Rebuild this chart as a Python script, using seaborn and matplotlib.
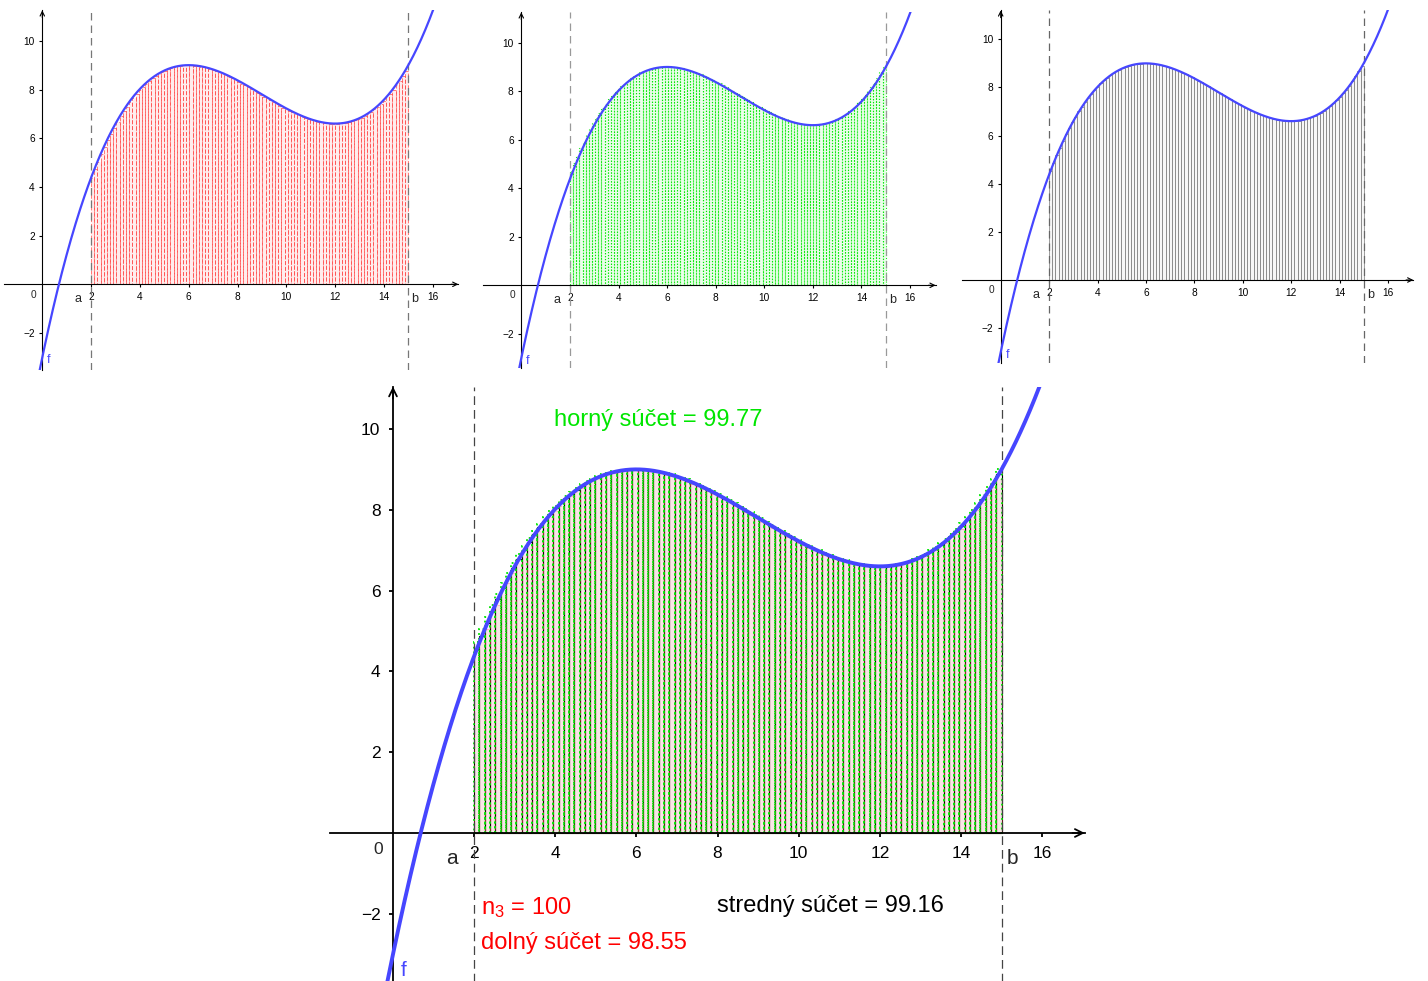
import numpy as np
import matplotlib
matplotlib.use("Agg")
import matplotlib.pyplot as plt
import seaborn as sns

# ---- data -------------------------------------------------------------
coef = [1 / 45, -0.6, 4.8, -3.0]      # f(x) = x^3/45 - 0.6x^2 + 4.8x - 3
a_val, b_val = 2.0, 15.0
n_rect = 100
crit_pts = [6.0, 12.0]                # local max / min of f
x_ticks = [2, 4, 6, 8, 10, 12, 14, 16]
y_ticks = [-2, 2, 4, 6, 8, 10]
label_upper = "horný súčet = 99.77"
label_lower = "dolný súčet = 98.55"
label_mid = "stredný súčet = 99.16"
label_n = r"$\mathregular{n_3}$ = 100"

# ---- derived rectangles ----------------------------------------------
f = np.poly1d(coef)
h = (b_val - a_val) / n_rect
lefts = a_val + h * np.arange(n_rect)
rights = lefts + h


def ext(l, r, fn):
    c = [f(l), f(r)] + [f(p) for p in crit_pts if l < p < r]
    return fn(c)


lower = np.array([ext(l, r, min) for l, r in zip(lefts, rights)])
upper = np.array([ext(l, r, max) for l, r in zip(lefts, rights)])
mids = f(lefts + h / 2)

# ---- style -------------------------------------------------------------
sns.set_theme(style="white")
plt.rcParams["font.family"] = ["Liberation Sans", "DejaVu Sans"]
plt.rcParams["mathtext.fontset"] = "custom"
plt.rcParams["mathtext.rm"] = "Liberation Sans"
plt.rcParams["axes.unicode_minus"] = True

W, H = 1428, 981
fig = plt.figure(figsize=(W / 100, H / 100), dpi=100)
fig.patch.set_facecolor("white")

BLUE = "#4646ff"
RED = "#ff0000"
GREEN = "#00e600"


def make_ax(x0, y0, sx, sy, xlim, ylim):
    left = x0 + xlim[0] * sx
    right = x0 + xlim[1] * sx
    top = y0 - ylim[1] * sy
    bottom = y0 - ylim[0] * sy
    ax = fig.add_axes([left / W, 1 - bottom / H, (right - left) / W, (bottom - top) / H])
    ax.set_xlim(xlim)
    ax.set_ylim(ylim)
    ax.patch.set_alpha(0)
    return ax


def style_axes(ax, fs, tl, lw, padx, pady, ms, lab_fs, f_pos, zero_pos, dash_col, dash_pat):
    for s in ["top", "right"]:
        ax.spines[s].set_visible(False)
    for s in ["left", "bottom"]:
        ax.spines[s].set_position(("data", 0))
        ax.spines[s].set_color("black")
        ax.spines[s].set_linewidth(lw)
        ax.spines[s].set_zorder(1.5)
    ax.set_xticks(x_ticks)
    ax.set_yticks(y_ticks)
    ax.tick_params(axis="x", direction="out", length=tl, width=lw, pad=padx,
                   labelsize=fs, colors="black", bottom=True)
    ax.tick_params(axis="y", direction="out", length=tl, width=lw, pad=pady,
                   labelsize=fs, colors="black", left=True)
    xl, yl = ax.get_xlim(), ax.get_ylim()
    ax.annotate("", xy=(xl[1], 0), xytext=(xl[1] - 0.3, 0),
                arrowprops=dict(arrowstyle="->", color="black", lw=lw,
                                mutation_scale=ms, shrinkA=0, shrinkB=0),
                annotation_clip=False)
    ax.annotate("", xy=(0, yl[1]), xytext=(0, yl[1] - 0.3),
                arrowprops=dict(arrowstyle="->", color="black", lw=lw,
                                mutation_scale=ms, shrinkA=0, shrinkB=0),
                annotation_clip=False)
    ax.text(zero_pos[0], zero_pos[1], "0", fontsize=fs, ha="center", va="center")
    for xv in (a_val, b_val):
        ax.axvline(xv, color=dash_col, lw=0.9, ls=(0, dash_pat), zorder=1.2)
    ax.text(a_val - 0.55, -0.62, "a", fontsize=lab_fs, ha="center", va="center")
    ax.text(b_val + 0.28, -0.62, "b", fontsize=lab_fs, ha="center", va="center")
    ax.text(f_pos[0], f_pos[1], "f", fontsize=lab_fs, color=BLUE, ha="center", va="center")


def draw_curve(ax, lw):
    xl = ax.get_xlim()
    xs = np.linspace(xl[0], xl[1], 800)
    sns.lineplot(x=xs, y=f(xs), ax=ax, color=BLUE, lw=lw, estimator=None,
                 sort=False, zorder=5)


# ---- panel 1 : lower sum (red dashed) -----------------------------------
ax1 = make_ax(42.3, 284.3, 24.4, 24.35, (-1.57, 17.05), (-3.5, 11.25))
ax1.bar(lefts, lower, width=h, align="edge", facecolor=(1, 0, 0, 0.07),
        edgecolor=(1, 0.3, 0.3, 0.75), linestyle=(0, (4, 2)), linewidth=0.7, zorder=1)
style_axes(ax1, 7.3, 2, 0.8, 3.5, 3.5, 8, 9, (0.27, -3.1), (-0.38, -0.42), "#777777", (6, 4))
draw_curve(ax1, 1.6)

# ---- panel 2 : upper sum (green dotted) ---------------------------------
ax2 = make_ax(521.3, 285.3, 24.3, 24.26, (-1.57, 17.05), (-3.4, 11.25))
ax2.bar(lefts, upper, width=h, align="edge", facecolor=(0, 1, 0, 0.08),
        edgecolor=(0, 0.9, 0, 0.9), linestyle=":", linewidth=0.8, zorder=1)
style_axes(ax2, 7.3, 2, 0.8, 3.5, 3.5, 8, 9, (0.27, -3.1), (-0.38, -0.42), "#999999", (6, 4))
draw_curve(ax2, 1.6)

# ---- panel 3 : middle sum (gray solid) ----------------------------------
ax3 = make_ax(1000.7, 280.0, 24.2, 24.07, (-1.6, 17.05), (-3.45, 11.2))
ax3.bar(lefts, mids, width=h, align="edge", facecolor=(0.5, 0.5, 0.5, 0.06),
        edgecolor="#8c8c8c", linestyle="-", linewidth=0.6, zorder=1)
style_axes(ax3, 7.3, 2, 0.8, 3.5, 3.5, 8, 9, (0.27, -3.1), (-0.38, -0.42), "#666666", (6, 4))
draw_curve(ax3, 1.6)

# ---- big panel : all together ------------------------------------------
ax4 = make_ax(393.0, 833.0, 40.57, 40.4, (-1.55, 17.05), (-3.7, 11.05))
ax4.bar(lefts, mids, width=h, align="edge", facecolor=(0.5, 0.5, 0.5, 0.05),
        edgecolor="black", linestyle="-", linewidth=0.8, zorder=1)
ax4.bar(lefts, lower, width=h, align="edge", facecolor=(1, 0, 0, 0.07),
        edgecolor=(1, 0.3, 0.3, 0.35), linestyle=(0, (4, 3)), linewidth=0.8, zorder=1.1)
ax4.bar(lefts, upper, width=h, align="edge", facecolor=(0, 1, 0, 0.0),
        edgecolor=(0, 0.9, 0, 1), linestyle=":", linewidth=1.3, zorder=1.2)
style_axes(ax4, 12.5, 3, 1.3, 6.5, 6, 14, 15, (0.25, -3.4), (-0.37, -0.42), "#444444", (7, 4))
draw_curve(ax4, 2.8)

ax4.text(3.98, 10.22, label_upper, fontsize=17, color=GREEN, ha="left", va="center")
ax4.text(2.18, -1.85, label_n, fontsize=17, color=RED, ha="left", va="center")
ax4.text(2.18, -2.72, label_lower, fontsize=17, color=RED, ha="left", va="center")
ax4.text(7.99, -1.81, label_mid, fontsize=17, color="black", ha="left", va="center")

fig.savefig("out.png", dpi=100, facecolor="white")
